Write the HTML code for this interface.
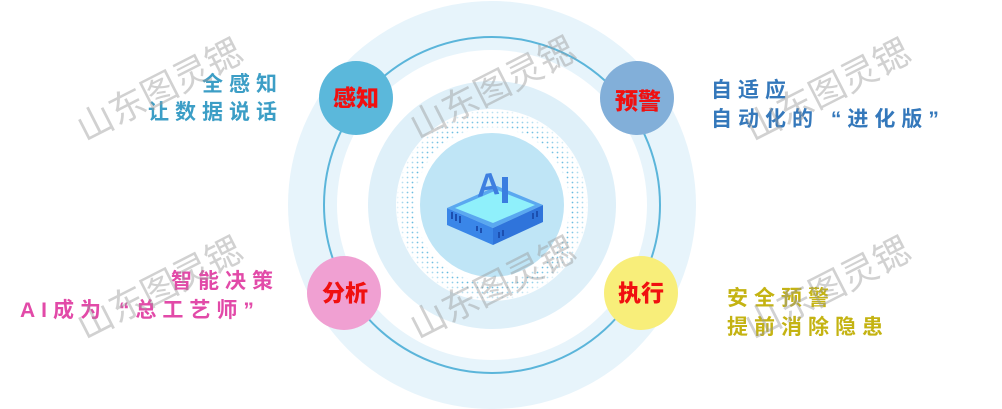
<!DOCTYPE html>
<html><head><meta charset="utf-8"><style>
html,body{margin:0;padding:0;background:#fff}
svg{display:block}
.t{font-family:"Liberation Sans","Noto Sans CJK SC",sans-serif;font-weight:bold;font-size:21px;letter-spacing:6px}
.c{font-family:"Liberation Sans","Noto Sans CJK SC",sans-serif;font-weight:900;font-size:23px;fill:#f01010}
.w{font-family:"Noto Sans CJK SC",sans-serif;font-size:36px;fill:#9a9a9a;fill-opacity:0.45}
</style></head><body>
<svg width="1002" height="409" viewBox="0 0 1002 409" xmlns="http://www.w3.org/2000/svg">
<defs>
<pattern id="dots" width="5" height="5" patternUnits="userSpaceOnUse"><circle cx="2.5" cy="2.5" r="0.9" fill="#5fb8de"/></pattern>
<radialGradient id="dg" cx="50%" cy="50%" r="50%">
<stop offset="0.8" stop-color="#fff" stop-opacity="0"/>
<stop offset="0.84" stop-color="#fff" stop-opacity="1"/>
<stop offset="0.97" stop-color="#fff" stop-opacity="0.4"/>
<stop offset="1" stop-color="#fff" stop-opacity="0"/>
</radialGradient>
<mask id="dm"><circle cx="492" cy="205" r="96" fill="url(#dg)"/></mask>
</defs>
<circle cx="492" cy="205" r="204" fill="#e7f4fb"/>
<circle cx="492" cy="205" r="155" fill="#fff"/>
<circle cx="492" cy="205" r="168" fill="none" stroke="#5bb5da" stroke-width="2"/>
<circle cx="492" cy="205" r="124" fill="#dff0f9"/>
<circle cx="492" cy="205" r="96" fill="#fff"/>
<circle cx="492" cy="205" r="96" fill="url(#dots)" mask="url(#dm)"/>
<circle cx="492" cy="205" r="72" fill="#bfe5f6"/>
<!-- chip -->
<polygon points="447,208 497,186 543,205 493,228" fill="#5aa8f0"/>
<polygon points="455,208 497,190 535,205 493,223" fill="#8ff0fb"/>
<polygon points="447,208 493,228 493,245 447,225" fill="#3a86e8"/>
<polygon points="493,228 543,205 543,222 493,245" fill="#2f74db"/>
<g fill="#1c4fb0"><rect x="451" y="212" width="2" height="7"/><rect x="455" y="214" width="2" height="7"/><rect x="459" y="216" width="2" height="7"/><rect x="498" y="232" width="2" height="6"/><rect x="502" y="230" width="2" height="6"/><rect x="532" y="213" width="2" height="6"/><rect x="536" y="211" width="2" height="6"/><rect x="476" y="226" width="2" height="5"/><rect x="480" y="228" width="2" height="5"/></g>
<text x="477" y="196" font-family="Liberation Sans,sans-serif" font-weight="bold" font-size="32" fill="#3e7fe0" transform="skewY(-8) translate(0,68)">A</text>
<rect x="502" y="177" width="6" height="26" fill="#3a7de0"/>
<!-- nodes -->
<circle cx="356" cy="98" r="37" fill="#5bb8db"/>
<circle cx="637" cy="98" r="37" fill="#82afd9"/>
<circle cx="344" cy="293" r="37" fill="#f0a0d2"/>
<circle cx="641" cy="293" r="37" fill="#f8ee7a"/>
<text class="c" x="356" y="106" text-anchor="middle">感知</text>
<text class="c" x="638" y="109" text-anchor="middle">预警</text>
<text class="c" x="345" y="301" text-anchor="middle">分析</text>
<text class="c" x="641" y="301" text-anchor="middle">执行</text>
<!-- labels -->
<text class="t" x="283" y="91" text-anchor="end" fill="#3c9ec6">全感知</text>
<text class="t" x="283" y="119" text-anchor="end" fill="#3c9ec6">让数据说话</text>
<text class="t" x="711" y="97" fill="#3478bb">自适应</text>
<text class="t" x="711" y="126" fill="#3478bb">自动化的 “进化版”</text>
<text class="t" x="279" y="288" text-anchor="end" fill="#e24aa8">智能决策</text>
<text class="t" x="20" y="317" fill="#e24aa8">AI成为 “总工艺师”</text>
<text class="t" x="727" y="305" fill="#c4b312">安全预警</text>
<text class="t" x="727" y="334" fill="#c4b312">提前消除隐患</text>
<!-- watermarks -->
<text class="w" transform="translate(85,142) rotate(-27)">山东图灵锶</text>
<text class="w" transform="translate(418,140) rotate(-27)">山东图灵锶</text>
<text class="w" transform="translate(753,142) rotate(-27)">山东图灵锶</text>
<text class="w" transform="translate(85,340) rotate(-27)">山东图灵锶</text>
<text class="w" transform="translate(418,340) rotate(-27)">山东图灵锶</text>
<text class="w" transform="translate(753,340) rotate(-27)">山东图灵锶</text>
</svg>
</body></html>
